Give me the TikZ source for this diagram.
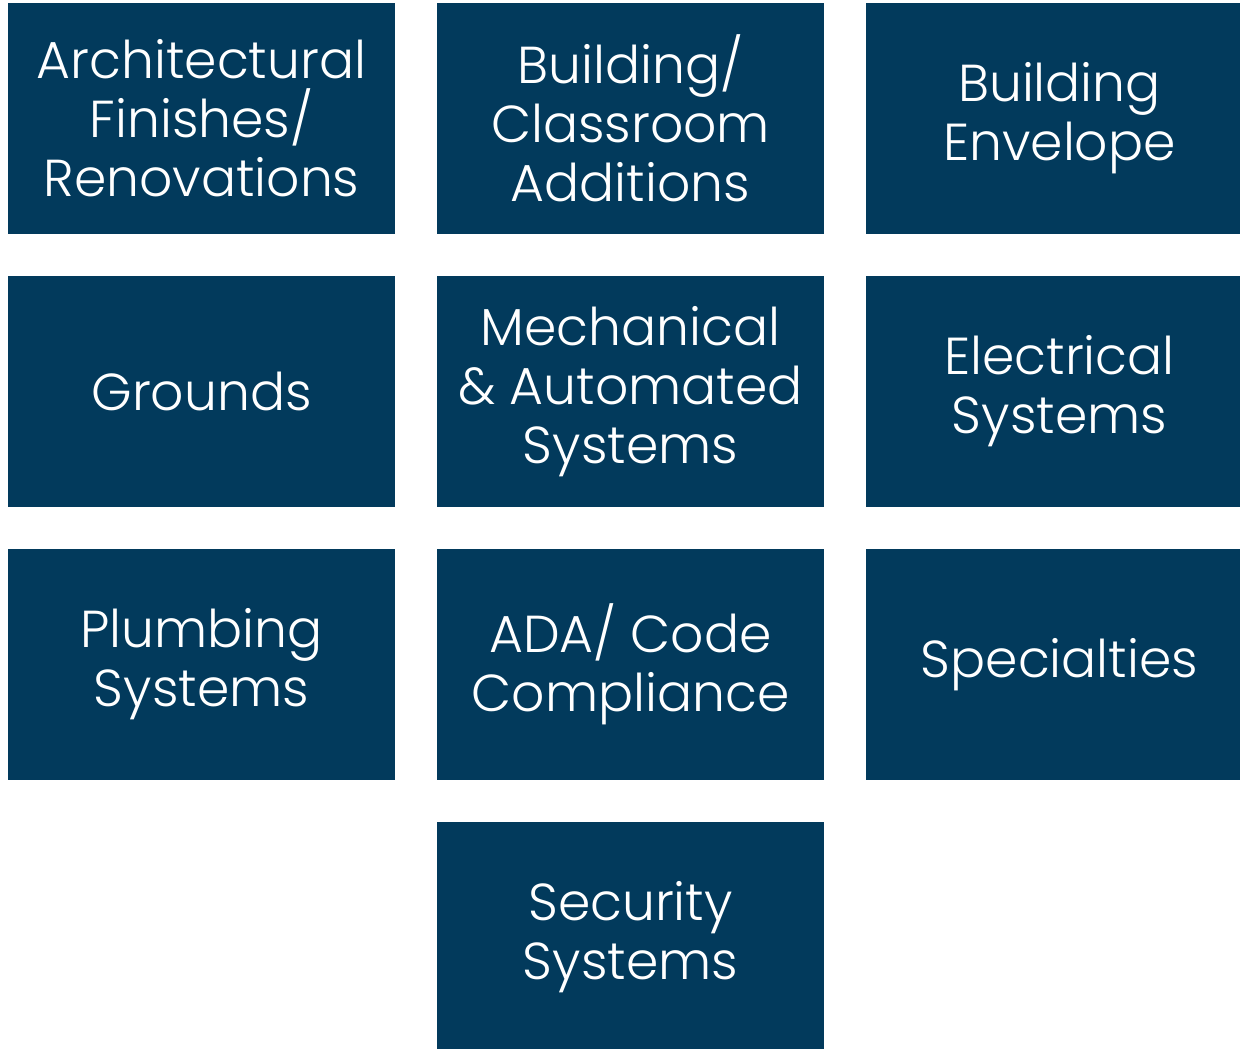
\documentclass[tikz,border=0pt]{standalone}
\usepackage{fontspec}
\setmainfont{Poppins}[UprightFont=* Light]
\definecolor{navy}{RGB}{2,58,92}

\begin{document}
\begin{tikzpicture}[x=0.5pt,y=-0.5pt,nodes={fill=navy,text=white,inner sep=0pt,align=center,minimum width=193.5pt,minimum height=115.5pt,font=\fontsize{26}{29.5}\selectfont}]

    \useasboundingbox (0,0) rectangle (1240,1048);
    \clip (0,0) rectangle (1240,1048);

    \node (arch)    at (201.5,118.5) {Architectural\\Finishes/\\Renovations};
    \node (addit)   at (630.5,118.5) {Building/\\Classroom\\Additions};
    \node (envel)   at (1059.5,118.5) {Building\\Envelope};

    \node (grounds) at (201.5,391.5) {Grounds};
    \node (mech)    at (630.5,391.5) {Mechanical\\\& Automated\\Systems};
    \node (elec)    at (1059.5,391.5) {Electrical\\Systems};

    \node (plumb)   at (201.5,664.5) {Plumbing\\Systems};
    \node (ada)     at (630.5,664.5) {ADA/ Code\\Compliance};
    \node (spec)    at (1059.5,664.5) {Specialties};

    \node (secur)   at (630.5,937.5) {Security\\Systems};

\end{tikzpicture}
\end{document}
